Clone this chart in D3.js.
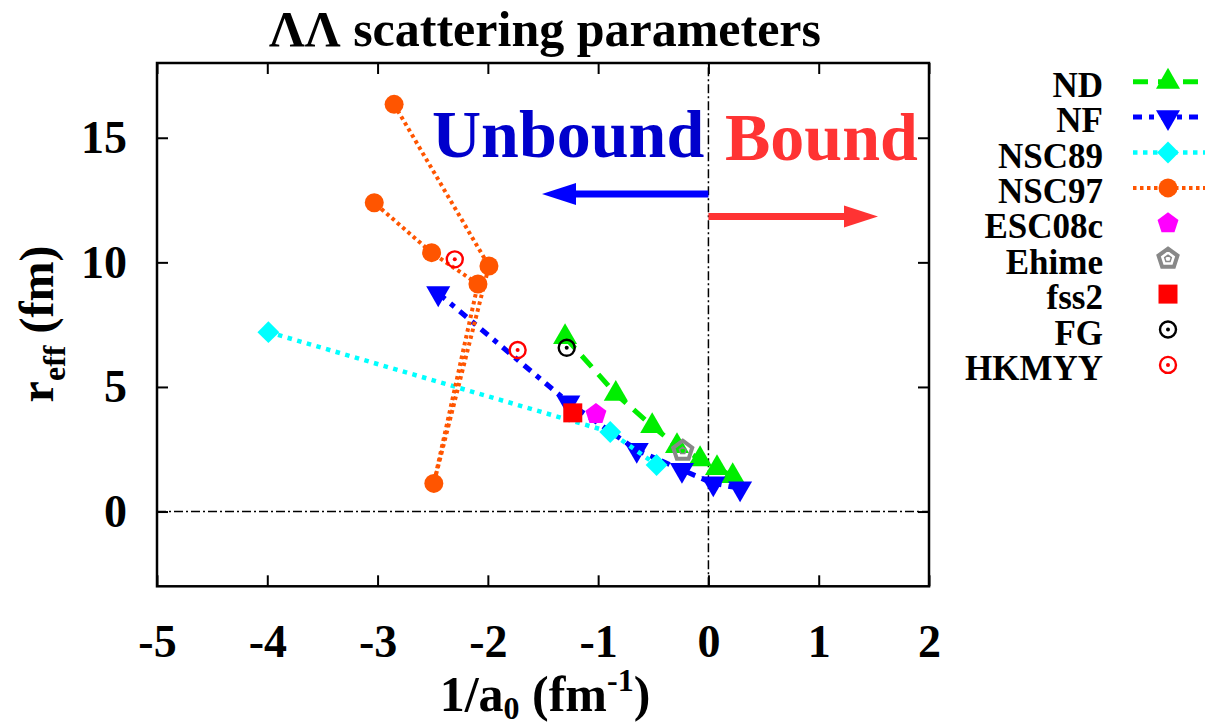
<!DOCTYPE html>
<html lang="en">
  <head>
    <meta charset="UTF-8" />
    <title>LL scattering parameters</title>
    <style>
      body { margin: 0; background: #fff; }
      text { font-family: "Liberation Serif", "Times New Roman", serif; font-weight: bold; }
    </style>
  </head>
  <body>
    <svg width="1215" height="728"></svg>
    <script src="https://cdn.jsdelivr.net/npm/d3@7"></script>
    <script>
      // values
      var xTicks = [-5, -4, -3, -2, -1, 0, 1, 2];
      var yTicks = [0, 5, 10, 15];

      var ndX = [-1.30, -0.84, -0.51, -0.285, -0.076, 0.078, 0.22];
      var ndY = [7.0, 4.72, 3.43, 2.63, 2.1, 1.74, 1.42];
      var nfX = [-2.45, -1.27, -0.65, -0.24, 0.044, 0.287];
      var nfY = [8.76, 4.38, 2.47, 1.67, 1.13, 0.93];
      var nsc89X = [-3.99, -0.89, -0.47];
      var nsc89Y = [7.2, 3.19, 1.87];
      var nsc97X = [-2.85, -1.99, -2.49, -2.09, -2.51, -3.03];
      var nsc97Y = [16.34, 9.85, 1.13, 9.13, 10.39, 12.39];
      var esc08cX = [-1.02], esc08cY = [3.91];
      var ehimeX = [-0.233], ehimeY = [2.44];
      var fss2X = [-1.23], fss2Y = [3.96];
      var fgX = [-1.285], fgY = [6.57];
      var hkmyyX = [-2.30, -1.73];
      var hkmyyY = [10.12, 6.48];

      var legendNames = ["ND", "NF", "NSC89", "NSC97", "ESC08c", "Ehime", "fss2", "FG", "HKMYY"];

      function pts(xs, ys) {
        return xs.map(function(v, i) { return [v, ys[i]]; });
      }

      var series = [
        { name: "ND", data: pts(ndX, ndY), color: "#00ee00", line: "15,10", width: 5, mark: "up" },
        { name: "NF", data: pts(nfX, nfY), color: "#0000ff", line: "9,7,5,7", width: 5, mark: "down" },
        { name: "NSC89", data: pts(nsc89X, nsc89Y), color: "#00ffff", line: "4.5,5.5", width: 4.5, mark: "diamond" },
        { name: "NSC97", data: pts(nsc97X, nsc97Y), color: "#ff5500", line: "3.5,3.5", width: 4, mark: "circle" },
        { name: "ESC08c", data: pts(esc08cX, esc08cY), color: "#ff00ff", mark: "pent" },
        { name: "Ehime", data: pts(ehimeX, ehimeY), color: "#888888", mark: "opent" },
        { name: "fss2", data: pts(fss2X, fss2Y), color: "#ff0000", mark: "square" },
        { name: "FG", data: pts(fgX, fgY), color: "#000000", mark: "odot" },
        { name: "HKMYY", data: pts(hkmyyX, hkmyyY), color: "#ff0000", mark: "odot" }
      ];

      var svg = d3.select("svg");
      var x = d3.scaleLinear().domain([-5, 2]).range([157, 929]);
      var y = d3.scaleLinear().domain([-3, 18]).range([586.3, 63]);
      var plain = function(d) { return String(d); };

      // axes, ticks pointing inward
      svg.append("g").attr("transform", "translate(0," + y(-3) + ")")
        .call(d3.axisBottom(x).tickValues(xTicks).tickFormat(plain).tickSize(-11).tickSizeOuter(0).tickPadding(38));
      svg.append("g").attr("transform", "translate(" + x(-5) + ",0)")
        .call(d3.axisLeft(y).tickValues(yTicks).tickFormat(plain).tickSize(-11).tickSizeOuter(0).tickPadding(30));
      svg.append("g").attr("transform", "translate(0," + y(18) + ")")
        .call(d3.axisTop(x).tickValues(xTicks).tickSize(-11).tickSizeOuter(0).tickFormat(""));
      svg.append("g").attr("transform", "translate(" + x(2) + ",0)")
        .call(d3.axisRight(y).tickValues(yTicks).tickSize(-11).tickSizeOuter(0).tickFormat(""));
      svg.selectAll(".domain").remove();
      svg.selectAll(".tick line").attr("stroke", "#000").attr("stroke-width", 2);
      svg.selectAll(".tick text")
        .attr("font-family", "Liberation Serif, serif")
        .attr("font-weight", "bold")
        .attr("font-size", 46)
        .attr("fill", "#000");

      // zero lines
      svg.append("line")
        .attr("x1", x(-5)).attr("x2", x(2)).attr("y1", y(0)).attr("y2", y(0))
        .attr("stroke", "#000").attr("stroke-width", 1.5).attr("stroke-dasharray", "9,3,2,3");
      svg.append("line")
        .attr("x1", x(0)).attr("x2", x(0)).attr("y1", y(-3)).attr("y2", y(18))
        .attr("stroke", "#000").attr("stroke-width", 1.5).attr("stroke-dasharray", "9,3,2,3");

      svg.append("rect")
        .attr("x", x(-5)).attr("y", y(18))
        .attr("width", x(2) - x(-5)).attr("height", y(-3) - y(18))
        .attr("fill", "none").attr("stroke", "#000").attr("stroke-width", 2.5);

      // Unbound / Bound annotation
      svg.append("text").attr("x", 432).attr("y", 157)
        .attr("font-size", 68).attr("fill", "#0000cc").text("Unbound");
      svg.append("text").attr("x", 725).attr("y", 160)
        .attr("font-size", 68).attr("fill", "#ff3333").text("Bound");

      function arrow(x0, x1, yy, color) {
        var dir = x1 > x0 ? 1 : -1;
        var hb = x1 - dir * 34;
        svg.append("line").attr("x1", x0).attr("x2", hb).attr("y1", yy).attr("y2", yy)
          .attr("stroke", color).attr("stroke-width", 7);
        svg.append("path")
          .attr("d", "M" + x1 + "," + yy + "L" + hb + "," + (yy - 11) + "L" + hb + "," + (yy + 11) + "Z")
          .attr("fill", color);
      }
      arrow(x(0), 542, 194, "#0000ff");
      arrow(x(0), 878, 216.5, "#ff3333");

      // markers
      function pentPath(r) {
        var p = d3.range(5).map(function(k) {
          var a = -Math.PI / 2 + k * 2 * Math.PI / 5;
          return [r * Math.cos(a), r * Math.sin(a)];
        });
        return "M" + p.join("L") + "Z";
      }

      function drawMark(g, kind, color) {
        if (kind === "up") {
          g.append("path").attr("d", d3.symbol(d3.symbolTriangle, 250)()).attr("fill", color);
        } else if (kind === "down") {
          g.append("path").attr("d", d3.symbol(d3.symbolTriangle, 250)())
            .attr("transform", "rotate(180)").attr("fill", color);
        } else if (kind === "diamond") {
          g.append("path").attr("d", d3.symbol(d3.symbolSquare, 240)())
            .attr("transform", "rotate(45)").attr("fill", color);
        } else if (kind === "circle") {
          g.append("circle").attr("r", 9.5).attr("fill", color);
        } else if (kind === "square") {
          g.append("path").attr("d", d3.symbol(d3.symbolSquare, 361)()).attr("fill", color);
        } else if (kind === "pent") {
          g.append("path").attr("d", pentPath(11)).attr("fill", color);
        } else if (kind === "opent") {
          g.append("path").attr("d", pentPath(10)).attr("fill", "none")
            .attr("stroke", color).attr("stroke-width", 4);
          g.append("path").attr("d", pentPath(3.5)).attr("fill", "none")
            .attr("stroke", color).attr("stroke-width", 1.5);
        } else if (kind === "odot") {
          g.append("circle").attr("r", 8).attr("fill", "none")
            .attr("stroke", color).attr("stroke-width", 2.4);
          g.append("circle").attr("r", 2).attr("fill", color);
        }
      }

      var line = d3.line().x(function(d) { return x(d[0]); }).y(function(d) { return y(d[1]); });

      series.forEach(function(s) {
        if (s.line) {
          svg.append("path").datum(s.data).attr("d", line)
            .attr("fill", "none").attr("stroke", s.color)
            .attr("stroke-width", s.width).attr("stroke-dasharray", s.line);
        }
        s.data.forEach(function(d) {
          var g = svg.append("g").attr("transform", "translate(" + x(d[0]) + "," + y(d[1]) + ")");
          drawMark(g, s.mark, s.color);
        });
      });

      // legend
      var leg = svg.append("g");
      series.forEach(function(s, i) {
        var base = 96.7 + i * 35.4;
        leg.append("text").attr("x", 1103).attr("y", base)
          .attr("text-anchor", "end").attr("font-size", 35).attr("fill", "#000")
          .text(legendNames[i]);
        var cy = base - 15;
        if (s.line) {
          leg.append("line").attr("x1", 1133).attr("x2", 1205).attr("y1", cy).attr("y2", cy)
            .attr("stroke", s.color).attr("stroke-width", s.width).attr("stroke-dasharray", s.line);
        }
        drawMark(leg.append("g").attr("transform", "translate(1168," + cy + ")"), s.mark, s.color);
      });

      // titles
      svg.append("text").attr("x", 545).attr("y", 46).attr("text-anchor", "middle")
        .attr("font-size", 50).attr("fill", "#000").text("\u039B\u039B scattering parameters");

      var xt = svg.append("text").attr("x", 545).attr("y", 711).attr("text-anchor", "middle")
        .attr("font-size", 50).attr("fill", "#000");
      xt.append("tspan").text("1/a");
      xt.append("tspan").attr("font-size", 32).attr("dy", 8).text("0");
      xt.append("tspan").attr("dy", -8).text(" (fm");
      xt.append("tspan").attr("font-size", 32).attr("dy", -20).text("-1");
      xt.append("tspan").attr("dy", 20).text(")");

      var yt = svg.append("text").attr("transform", "translate(53,324) rotate(-90)")
        .attr("text-anchor", "middle").attr("font-size", 48).attr("fill", "#000");
      yt.append("tspan").text("r");
      yt.append("tspan").attr("font-size", 32).attr("dy", 12).text("eff");
      yt.append("tspan").attr("dy", -12).text(" (fm)");
    </script>
  </body>
</html>
